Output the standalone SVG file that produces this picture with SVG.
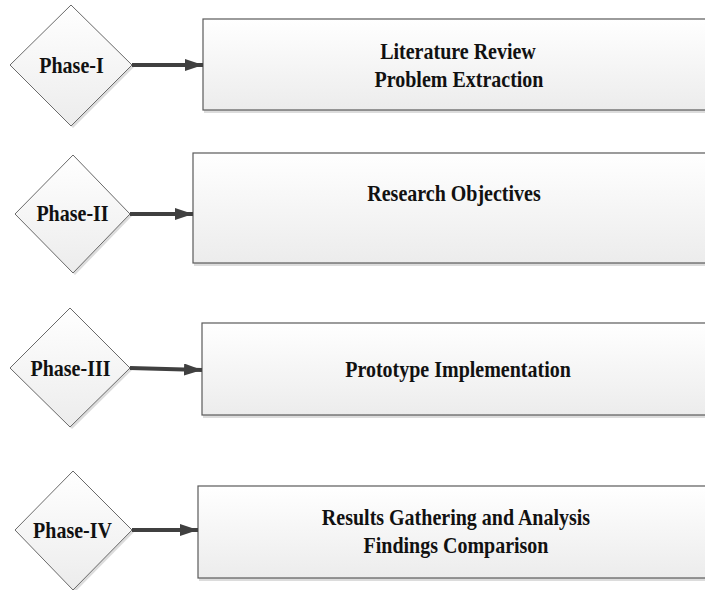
<svg xmlns="http://www.w3.org/2000/svg" width="705" height="590" viewBox="0 0 705 590">
  <defs>
    <linearGradient id="fillGrad" x1="0" y1="0" x2="0" y2="1">
      <stop offset="0" stop-color="#ffffff"/>
      <stop offset="1" stop-color="#ececec"/>
    </linearGradient>
    <marker id="arrowHead" viewBox="0 0 18 12" refX="18" refY="6" markerWidth="18" markerHeight="12" markerUnits="userSpaceOnUse" orient="auto">
      <path d="M0,0 L18,6 L0,12 Z" fill="#404040"/>
    </marker>
    <style>
      .box { fill: url(#fillGrad); stroke: #5a5a5a; stroke-width: 1.2; }
      .diamond { fill: url(#fillGrad); stroke: #6a6a6a; stroke-width: 1; }
      .shadow { fill: #dcdcdc; stroke: none; }
      .label { font-family: "Liberation Serif", "Times New Roman", serif; font-weight: bold; font-size: 20px; fill: #111111; text-anchor: middle; }
      .conn { stroke: #404040; stroke-width: 4; fill: none; marker-end: url(#arrowHead); }
    </style>
  </defs>

  <!-- Phase I -->
  <g id="phase1">
    <polygon class="shadow" points="73,7 134,67 73,128 12,67"/>
    <polygon class="diamond" points="71,5 132,65 71,126 10,65"/>
    <text class="label" transform="translate(71.5,73) scale(1,1.13)">Phase-I</text>
  </g>
  <g id="step1">
    <rect class="shadow" x="204" y="21" width="510" height="92"/>
    <rect class="box" x="203" y="19" width="510" height="91"/>
    <text class="label" transform="translate(458,59) scale(1,1.13)">Literature Review</text>
    <text class="label" transform="translate(459,87) scale(1,1.13)">Problem Extraction</text>
  </g>

  <!-- Phase II -->
  <g id="phase2">
    <polygon class="shadow" points="75,157 132,216 75,275 17,216"/>
    <polygon class="diamond" points="73,155 130,214 73,273 15,214"/>
    <text class="label" transform="translate(72.5,221) scale(1,1.13)">Phase-II</text>
  </g>
  <g id="step2">
    <rect class="shadow" x="194" y="155" width="520" height="111"/>
    <rect class="box" x="193" y="153" width="520" height="110"/>
    <text class="label" transform="translate(454,201) scale(1,1.13)">Research Objectives</text>
  </g>

  <!-- Phase III -->
  <g id="phase3">
    <polygon class="shadow" points="72,310 132,370 72,429 12,370"/>
    <polygon class="diamond" points="70,308 130,368 70,427 10,368"/>
    <text class="label" transform="translate(70.5,376) scale(1,1.13)">Phase-III</text>
  </g>
  <g id="step3">
    <rect class="shadow" x="203" y="325" width="510" height="93"/>
    <rect class="box" x="202" y="323" width="510" height="92"/>
    <text class="label" transform="translate(458,377) scale(1,1.13)">Prototype Implementation</text>
  </g>

  <!-- Phase IV -->
  <g id="phase4">
    <polygon class="shadow" points="75,473 134,532 75,592 17,532"/>
    <polygon class="diamond" points="73,471 132,530 73,590 15,530"/>
    <text class="label" transform="translate(72.5,538) scale(1,1.13)">Phase-IV</text>
  </g>
  <g id="step4">
    <rect class="shadow" x="199" y="488" width="515" height="93"/>
    <rect class="box" x="198" y="486" width="515" height="92"/>
    <text class="label" transform="translate(456,525) scale(1,1.13)">Results Gathering and Analysis</text>
    <text class="label" transform="translate(456,553) scale(1,1.13)">Findings Comparison</text>
  </g>

  <!-- Connectors -->
  <g id="connectors">
    <line class="conn" x1="132" y1="65" x2="203" y2="65"/>
    <line class="conn" x1="130" y1="214" x2="193" y2="214"/>
    <line class="conn" x1="130" y1="368" x2="202" y2="370"/>
    <line class="conn" x1="132" y1="530" x2="198" y2="530"/>
  </g>
</svg>
